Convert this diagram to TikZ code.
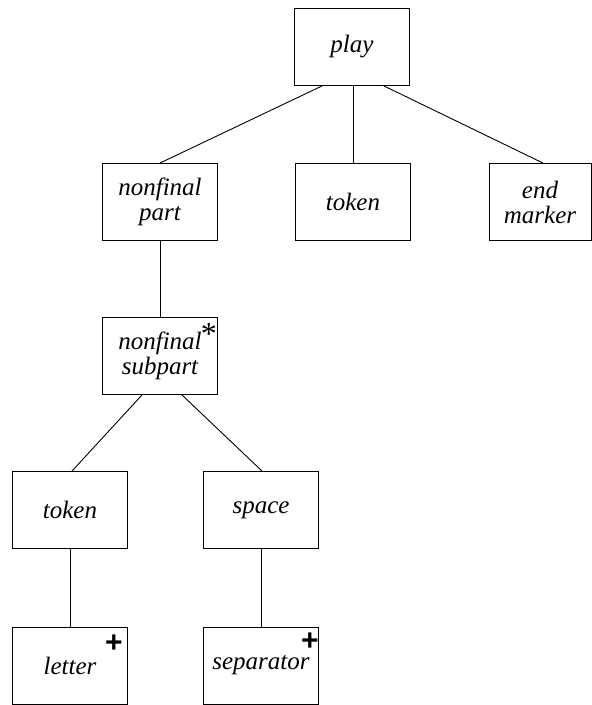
\documentclass[tikz,border=0pt]{standalone}
\usepackage{fontspec}
\setmainfont{Liberation Serif}
\newfontfamily\marksans{Liberation Sans}
\begin{document}
\begin{tikzpicture}[x=1pt,y=-1pt,
  box/.style={draw, line width=0.9pt, minimum width=115pt, minimum height=77pt,
    inner sep=0pt, align=center, font=\fontsize{25}{25}\selectfont\itshape},
  link/.style={line width=0.9pt},
  plusmark/.style={inner sep=0pt, font=\marksans\bfseries\fontsize{30}{30}\selectfont},
  starmark/.style={inner sep=0pt, anchor=north, font=\fontsize{32}{32}\selectfont}]
\useasboundingbox (0,0) rectangle (592,705);
\node[box] (play) at (352,47) {play};
\node[box] (np) at (160,202) {nonfinal\\part};
\node[box] (tokm) at (353,202) {token};
\node[box, minimum width=102pt] (em) at (540,202) {end\\marker};
\node[box] (sub) at (160,356) {nonfinal\\subpart};
\node[box] (tokl) at (70,510) {token};
\node[box] (space) at (261,510) {space};
\node[box] (letter) at (70,665.5) {letter};
\node[box] (sep) at (261,665.5) {separator};
\node[starmark] (star) at ([xshift=-9pt,yshift=-6pt]sub.north east) {*};
\node[plusmark] (plusA) at ([xshift=-14pt,yshift=-17pt]letter.north east) {+};
\node[plusmark] (plusB) at ([xshift=-9pt,yshift=-15pt]sep.north east) {+};
\draw[link] ([xshift=-30pt]play.south) -- (np.north);
\draw[link] ([xshift=1pt]play.south) -- (tokm.north);
\draw[link] ([xshift=32pt]play.south) -- ([xshift=3pt]em.north);
\draw[link] (np.south) -- (sub.north);
\draw[link] ([xshift=-18pt]sub.south) -- ([xshift=2pt]tokl.north);
\draw[link] ([xshift=22pt]sub.south) -- ([xshift=1pt]space.north);
\draw[link] (tokl.south) -- (letter.north);
\draw[link] (space.south) -- (sep.north);
\end{tikzpicture}
\end{document}
